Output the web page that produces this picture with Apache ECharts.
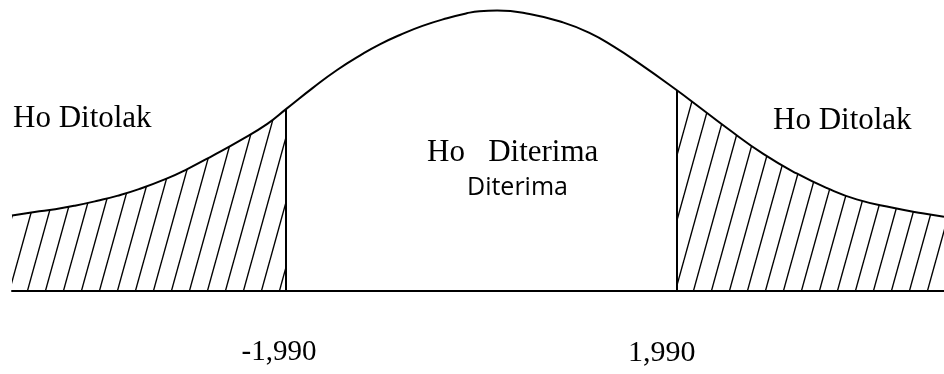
<!DOCTYPE html>
<html>
<head>
    <meta charset="UTF-8">
    <style>
        html, body { margin: 0; padding: 0; background: #fff; }
        #main { width: 944px; height: 374px; }
    </style>
</head>
<body>
<div id="main"></div>
<script src="https://cdn.jsdelivr.net/npm/echarts@6/dist/echarts.min.js"></script>
<script>
    // curve: t value and height
    var curveX = [-4.78, -4.55, -4.34, -4.14, -3.91, -3.71, -3.48, -3.20, -3.00, -2.73, -2.46, -2.18, -1.99,
        -1.72, -1.47, -1.21, -1.03, -0.83, -0.60, -0.35, -0.15, -0.02, 0.16, 0.49, 0.83, 1.10, 1.34, 1.61, 1.99,
        2.19, 2.50, 2.87, 3.21, 3.52, 3.82, 4.19, 4.49, 4.71];
    var curveY = [0.108, 0.113, 0.117, 0.122, 0.129, 0.136, 0.146, 0.161, 0.174, 0.194, 0.215, 0.239, 0.260,
        0.290, 0.316, 0.339, 0.353, 0.366, 0.379, 0.390, 0.397, 0.400, 0.401, 0.396, 0.384, 0.369, 0.350, 0.325, 0.287,
        0.266, 0.233, 0.196, 0.168, 0.147, 0.131, 0.119, 0.111, 0.106];
    var cutoffs = [-1.99, 1.99];
    var cutoffLabels = ['-1,990', '1,990'];
    var regionLabels = ['Ho Ditolak', 'Ho   Diterima', 'Diterima', 'Ho Ditolak'];

    var curve = [], leftTail = [], rightTail = [];
    for (var i = 0; i < curveX.length; i++) {
        var p = [curveX[i], curveY[i]];
        curve.push(p);
        if (curveX[i] <= cutoffs[0]) leftTail.push(p);
        if (curveX[i] >= cutoffs[1]) rightTail.push(p);
    }
    function heightAt(x) {
        return curveY[curveX.indexOf(x)];
    }

    // hatch pattern
    var hatch = document.createElement('canvas');
    var W = 18, H = 65;
    hatch.width = W;
    hatch.height = H;
    var ctx = hatch.getContext('2d');
    ctx.strokeStyle = '#000';
    ctx.lineWidth = 1.4;
    [-W, 0, W].forEach(function (dx) {
        ctx.beginPath();
        ctx.moveTo(dx, H);
        ctx.lineTo(dx + W, 0);
        ctx.stroke();
    });

    var serif = '"Liberation Serif", "Times New Roman", serif';
    var myChart = echarts.init(document.getElementById('main'));
    var option = {
        animation: false,
        grid: {left: 12, right: 0, top: 0, bottom: 83},
        xAxis: {
            type: 'value',
            min: -4.78,
            max: 4.71,
            axisLine: {show: true, onZero: false, lineStyle: {color: '#000', width: 2}},
            axisTick: {show: false},
            splitLine: {show: false},
            axisLabel: {
                customValues: cutoffs,
                margin: 47,
                formatter: function (v) {
                    return v < 0 ? '{a|' + cutoffLabels[0] + '}' : '{b|' + cutoffLabels[1] + '}';
                },
                rich: {
                    a: {fontFamily: serif, fontSize: 29, color: '#000', padding: [0, 14, 0, 0]},
                    b: {fontFamily: serif, fontSize: 30, color: '#000', padding: [0, 30, 0, 0]}
                }
            }
        },
        yAxis: {type: 'value', min: 0, max: 0.416, show: false},
        series: [
            {
                type: 'line',
                data: leftTail,
                smooth: true,
                symbol: 'none',
                lineStyle: {width: 0, opacity: 0},
                areaStyle: {color: {image: hatch, repeat: 'repeat'}, opacity: 1}
            },
            {
                type: 'line',
                data: rightTail,
                smooth: true,
                symbol: 'none',
                lineStyle: {width: 0, opacity: 0},
                areaStyle: {color: {image: hatch, repeat: 'repeat'}, opacity: 1}
            },
            {
                type: 'line',
                data: curve,
                smooth: true,
                symbol: 'none',
                z: 5,
                lineStyle: {color: '#000', width: 2},
                markLine: {
                    silent: true,
                    symbol: 'none',
                    label: {show: false},
                    lineStyle: {color: '#000', width: 2, type: 'solid'},
                    data: cutoffs.map(function (c) {
                        return [{coord: [c, 0]}, {coord: [c, heightAt(c)]}];
                    })
                }
            }
        ],
        graphic: [
            {type: 'text', left: 13, top: 103, style: {text: regionLabels[0], font: '31px ' + serif, fill: '#000'}},
            {type: 'text', left: 427, top: 137, style: {text: regionLabels[1], font: '31px ' + serif, fill: '#000'}},
            {type: 'text', left: 467, top: 175, style: {text: regionLabels[2], font: '25px "Open Sans", sans-serif', fill: '#000'}},
            {type: 'text', left: 773, top: 105, style: {text: regionLabels[3], font: '31px ' + serif, fill: '#000'}}
        ]
    };
    myChart.setOption(option);
</script>
</body>
</html>
